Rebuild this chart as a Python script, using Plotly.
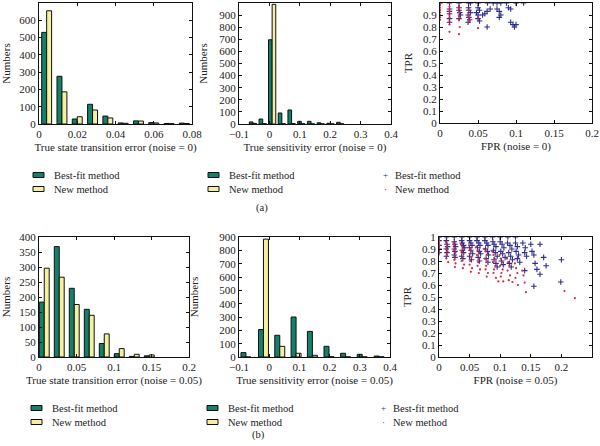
import plotly.graph_objects as go

# ---------------- data ----------------
# (a) noise = 0 : state transition error histogram
st0_x = [0.004, 0.012, 0.020, 0.028, 0.036, 0.044, 0.052, 0.060, 0.068, 0.076]
st0_best = [530, 276, 29, 114, 46, 6, 18, 8, 3, 5]
st0_new = [655, 186, 42, 81, 35, 4, 17, 6, 2, 3]

# (a) noise = 0 : sensitivity error histogram
se0_x = [-0.054, -0.022, 0.009, 0.041, 0.073, 0.105, 0.137, 0.169, 0.201, 0.233]
se0_best = [17, 41, 696, 91, 116, 22, 22, 10, 6, 14]
se0_new = [5, 3, 989, 2, 3, 2, 1, 1, 1, 1]

# (a) noise = 0 : ROC points
roc0_best_fpr = [0, 0.0125, 0.025, 0.0375, 0.04, 0.05, 0.0625, 0.07, 0.075, 0.08, 0.0875, 0.1, 0.11,
                 0.0125, 0.0125, 0.0125, 0.0125, 0.0125,
                 0.025, 0.025, 0.026, 0.027, 0.025,
                 0.0375, 0.038, 0.04, 0.037, 0.038, 0.039, 0.037,
                 0.05, 0.052, 0.048, 0.05, 0.05, 0.052,
                 0.056, 0.059, 0.062, 0.066, 0.062,
                 0.075, 0.078, 0.08, 0.078,
                 0.09, 0.093, 0.093, 0.096, 0.098, 0.1]
roc0_best_tpr = [1, 1, 1, 1, 1, 1, 1, 1, 1, 1, 1, 1, 1,
                 0.95, 0.93, 0.91, 0.87, 0.84,
                 0.96, 0.94, 0.92, 0.90, 0.87,
                 0.96, 0.94, 0.92, 0.90, 0.88, 0.86, 0.84,
                 0.96, 0.94, 0.92, 0.90, 0.87, 0.85,
                 0.90, 0.91, 0.93, 0.95, 0.80,
                 0.95, 0.93, 0.90, 0.88,
                 0.96, 0.95, 0.84, 0.82, 0.80, 0.82]
roc0_new_fpr = [0, 0, 0, 0, 0, 0, 0, 0,
                0.0125, 0.0125, 0.0125, 0.0125, 0.0125, 0.0125, 0.0125, 0.0125, 0.0125,
                0.025, 0.025, 0.025, 0.025, 0.025, 0.026, 0.025,
                0.0375, 0.0375, 0.038, 0.0375, 0.039,
                0.05, 0.05]
roc0_new_tpr = [1, 0.98, 0.96, 0.94, 0.92, 0.90, 0.88, 0.86,
                1, 0.97, 0.95, 0.93, 0.90, 0.88, 0.85, 0.82, 0.76,
                0.97, 0.95, 0.92, 0.89, 0.86, 0.80, 0.74,
                0.94, 0.90, 0.88, 0.86, 0.85,
                0.79, 0.88]

# (b) noise = 0.05 : state transition error histogram
st5_x = [0.007, 0.027, 0.047, 0.067, 0.087, 0.107, 0.127, 0.147]
st5_best = [183, 368, 229, 159, 45, 11, 2, 4]
st5_new = [296, 266, 175, 139, 77, 28, 9, 7]

# (b) noise = 0.05 : sensitivity error histogram
se5_x = [-0.077, -0.019, 0.035, 0.089, 0.143, 0.198, 0.253, 0.308, 0.364]
se5_best = [33, 206, 163, 300, 192, 80, 28, 20, 7]
se5_new = [0, 884, 80, 28, 13, 2, 1, 1, 1]

# (b) noise = 0.05 : ROC points
roc5_best_fpr = [0, 0.0125, 0.025, 0.0375, 0.05, 0.0625, 0.075, 0.0875, 0.1, 0.1125, 0.125,
                 0, 0, 0, 0,
                 0.012, 0.013, 0.014, 0.012, 0.013, 0.012,
                 0.025, 0.026, 0.027, 0.025, 0.026, 0.025, 0.026,
                 0.037, 0.038, 0.040, 0.042, 0.038, 0.040, 0.037, 0.039,
                 0.050, 0.052, 0.054, 0.050, 0.052, 0.055, 0.050, 0.053,
                 0.062, 0.065, 0.067, 0.063, 0.066, 0.068, 0.064, 0.066,
                 0.075, 0.078, 0.080, 0.076, 0.079, 0.081, 0.077, 0.080,
                 0.088, 0.090, 0.093, 0.089, 0.092, 0.095, 0.090, 0.093, 0.095,
                 0.100, 0.103, 0.106, 0.101, 0.104, 0.108, 0.102, 0.105,
                 0.112, 0.116, 0.119, 0.114, 0.117, 0.120, 0.115, 0.118,
                 0.125, 0.128, 0.126, 0.130, 0.128, 0.132,
                 0.137, 0.141, 0.140, 0.143, 0.140,
                 0.150, 0.152, 0.155, 0.157, 0.160, 0.155, 0.165,
                 0.165, 0.171, 0.175, 0.200, 0.199]
roc5_best_tpr = [1, 1, 1, 1, 1, 1, 1, 1, 1, 1, 1,
                 0.97, 0.93, 0.90, 0.87,
                 0.97, 0.94, 0.92, 0.90, 0.87, 0.84,
                 0.96, 0.94, 0.92, 0.90, 0.88, 0.85, 0.83,
                 0.97, 0.95, 0.93, 0.91, 0.89, 0.87, 0.84, 0.82,
                 0.97, 0.95, 0.93, 0.91, 0.89, 0.86, 0.84, 0.81,
                 0.97, 0.95, 0.93, 0.91, 0.88, 0.86, 0.83, 0.80,
                 0.97, 0.95, 0.93, 0.90, 0.88, 0.85, 0.82, 0.79,
                 0.96, 0.94, 0.92, 0.89, 0.87, 0.84, 0.81, 0.78, 0.75,
                 0.96, 0.94, 0.91, 0.88, 0.86, 0.83, 0.80, 0.77,
                 0.95, 0.93, 0.90, 0.87, 0.84, 0.81, 0.78, 0.75,
                 0.95, 0.92, 0.88, 0.85, 0.82, 0.79,
                 0.95, 0.91, 0.87, 0.84, 0.72,
                 0.94, 0.88, 0.85, 0.78, 0.73, 0.59, 0.69,
                 0.94, 0.83, 0.76, 0.81, 0.625]
roc5_new_fpr = [0, 0, 0, 0, 0, 0,
                0.011, 0.012, 0.013, 0.012, 0.014, 0.013, 0.012, 0.015,
                0.024, 0.025, 0.026, 0.025, 0.027, 0.026, 0.025, 0.027, 0.026,
                0.036, 0.038, 0.039, 0.037, 0.040, 0.038, 0.037, 0.041, 0.039,
                0.049, 0.051, 0.052, 0.050, 0.053, 0.051, 0.050, 0.054, 0.052,
                0.061, 0.063, 0.065, 0.062, 0.066, 0.064, 0.063, 0.067, 0.065,
                0.074, 0.076, 0.078, 0.075, 0.079, 0.077, 0.076, 0.080, 0.078,
                0.087, 0.089, 0.091, 0.088, 0.092, 0.090, 0.089, 0.093,
                0.099, 0.101, 0.103, 0.100, 0.104, 0.102, 0.101, 0.105,
                0.111, 0.113, 0.115, 0.112, 0.116, 0.114,
                0.124, 0.126, 0.128, 0.125, 0.129,
                0.136, 0.138, 0.140, 0.142,
                0.205, 0.222, 0.120, 0.097]
roc5_new_tpr = [0.97, 0.95, 0.93, 0.91, 0.89, 0.87,
                0.96, 0.94, 0.92, 0.90, 0.88, 0.85, 0.82, 0.79,
                0.95, 0.93, 0.91, 0.89, 0.87, 0.84, 0.81, 0.78, 0.75,
                0.94, 0.92, 0.90, 0.88, 0.86, 0.83, 0.80, 0.77, 0.74,
                0.93, 0.90, 0.88, 0.86, 0.83, 0.80, 0.77, 0.74, 0.71,
                0.92, 0.89, 0.87, 0.85, 0.82, 0.79, 0.76, 0.73, 0.70,
                0.90, 0.88, 0.85, 0.82, 0.79, 0.76, 0.73, 0.70, 0.67,
                0.88, 0.85, 0.82, 0.79, 0.76, 0.73, 0.70, 0.66,
                0.85, 0.82, 0.79, 0.76, 0.73, 0.70, 0.67, 0.63,
                0.82, 0.79, 0.76, 0.72, 0.68, 0.64,
                0.78, 0.74, 0.70, 0.66, 0.60,
                0.72, 0.68, 0.62, 0.54,
                0.55, 0.49, 0.625, 0.63]

series_names = ["Best-fit method", "New method"]
captions = ["(a)", "(b)"]

# ---------------- styling ----------------
FONT = "Liberation Serif"
TEAL = "#13806a"
YELLOW = "#f4f0a0"
BLUE = "#2e2e8c"
RED = "#d8283c"
TXT = "#222222"
EDGE = "#111111"

W, H = 600, 446
def px_x(p):
    return p / W
def px_y(p):
    return 1 - p / H

fig = go.Figure()

def add_hist(idx, xs, best, new, w):
    ax = "" if idx == 1 else str(idx)
    fig.add_trace(go.Bar(x=xs, y=best, width=w, offset=-w, name=series_names[0],
                         marker=dict(color=TEAL, line=dict(color=EDGE, width=1)),
                         xaxis="x" + ax, yaxis="y" + ax))
    fig.add_trace(go.Bar(x=xs, y=new, width=w, offset=0, name=series_names[1],
                         marker=dict(color=YELLOW, line=dict(color=EDGE, width=1)),
                         xaxis="x" + ax, yaxis="y" + ax))

def add_roc(idx, bx, by, nx, ny):
    ax = str(idx)
    fig.add_trace(go.Scatter(x=bx, y=by, mode="markers", name=series_names[0],
                             marker=dict(symbol="cross-thin", size=4, line=dict(color=BLUE, width=1.1), color=BLUE),
                             xaxis="x" + ax, yaxis="y" + ax))
    fig.add_trace(go.Scatter(x=nx, y=ny, mode="markers", name=series_names[1],
                             marker=dict(symbol="circle", size=2.2, color=RED),
                             xaxis="x" + ax, yaxis="y" + ax))

add_hist(1, st0_x, st0_best, st0_new, 0.0026)
add_hist(2, se0_x, se0_best, se0_new, 0.012)
add_roc(3, roc0_best_fpr, roc0_best_tpr, roc0_new_fpr, roc0_new_tpr)
add_hist(4, st5_x, st5_best, st5_new, 0.0066)
add_hist(5, se5_x, se5_best, se5_new, 0.0165)
add_roc(6, roc5_best_fpr, roc5_best_tpr, roc5_new_fpr, roc5_new_tpr)

panels = [
    # idx, xpix, ypix, xrange, dtickx, yrange, dticky, xtitle, ytitle, ytitle standoff
    (1, (39, 192), (3, 124), [0, 0.08], 0.02, [0, 700], 100, "True state transition error (noise = 0)", "Numbers", 19),
    (2, (239, 391), (3, 124), [-0.1, 0.4], 0.1, [0, 1000], 100, "True sensitivity error (noise = 0)", "Numbers", 9),
    (3, (440, 592), (3, 123), [0, 0.2], 0.05, [0, 1], 0.1, "FPR (noise = 0)", "TPR", 8),
    (4, (39, 189), (237, 357), [0, 0.2], 0.05, [0, 400], 50, "True state transition error (noise = 0.05)", "Numbers", 21),
    (5, (239, 390), (237, 357), [-0.1, 0.4], 0.1, [0, 900], 100, "True sensitivity error (noise = 0.05)", "Numbers", 18),
    (6, (439, 592), (237, 357), [0, 0.25], 0.05, [0, 1], 0.1, "FPR (noise = 0.05)", "TPR", 8),
]

layout = {}
for idx, xp, yp, xr, dx, yr, dy, xt, yt, ysoff in panels:
    s = "" if idx == 1 else str(idx)
    common = dict(showline=True, linecolor=EDGE, linewidth=1, mirror="ticks",
                  ticks="inside", ticklen=3, tickcolor=EDGE, showgrid=False, zeroline=False,
                  automargin=False, tickfont=dict(family=FONT, size=11, color=TXT))
    layout["xaxis" + s] = dict(common, domain=[px_x(xp[0]), px_x(xp[1])], range=xr, dtick=dx,
                               tick0=0, anchor="y" + s,
                               title=dict(text=xt, font=dict(family=FONT, size=11, color=TXT), standoff=4))
    layout["yaxis" + s] = dict(common, domain=[px_y(yp[1]), px_y(yp[0])], range=yr, dtick=dy,
                               tick0=0, anchor="x" + s,
                               title=dict(text=yt, font=dict(family=FONT, size=11, color=TXT), standoff=ysoff))

# ---- hand-drawn legends (swatch shapes + text annotations) ----
shapes = []
annotations = []
bar_legends = [(33, 52, 175, 189), (208, 227, 175, 189), (31, 50, 408, 422), (207, 226, 408, 422)]
for sx, tx, r1, r2 in bar_legends:
    for row_y, col in ((r1, TEAL), (r2, YELLOW)):
        shapes.append(dict(type="rect", xref="paper", yref="paper",
                           x0=px_x(sx), x1=px_x(sx + 11), y0=px_y(row_y + 2.5), y1=px_y(row_y - 2.5),
                           fillcolor=col, line=dict(color=EDGE, width=1)))
    for row_y, name in ((r1, series_names[0]), (r2, series_names[1])):
        annotations.append(dict(text=name, x=px_x(tx), y=px_y(row_y), xref="paper", yref="paper",
                                xanchor="left", yanchor="middle", showarrow=False,
                                font=dict(family=FONT, size=10.5, color=TXT)))

scatter_legends = [(385, 393, 175, 189), (383, 391, 408, 422)]
for mx, tx, r1, r2 in scatter_legends:
    annotations.append(dict(text="+", x=px_x(mx), y=px_y(r1), xref="paper", yref="paper",
                            xanchor="center", yanchor="middle", showarrow=False,
                            font=dict(family=FONT, size=9, color=BLUE)))
    annotations.append(dict(text="·", x=px_x(mx), y=px_y(r2), xref="paper", yref="paper",
                            xanchor="center", yanchor="middle", showarrow=False,
                            font=dict(family=FONT, size=10, color=RED)))
    for row_y, name in ((r1, series_names[0]), (r2, series_names[1])):
        annotations.append(dict(text=name, x=px_x(tx), y=px_y(row_y), xref="paper", yref="paper",
                                xanchor="left", yanchor="middle", showarrow=False,
                                font=dict(family=FONT, size=10.5, color=TXT)))

for cap, (cx, cy) in zip(captions, [(262, 208), (258, 435)]):
    annotations.append(dict(text=cap, x=px_x(cx), y=px_y(cy), xref="paper", yref="paper",
                            xanchor="center", yanchor="middle", showarrow=False,
                            font=dict(family=FONT, size=10.5, color=TXT)))

fig.update_layout(**layout)
fig.update_layout(
    width=W, height=H, margin=dict(l=0, r=0, t=0, b=0, autoexpand=False),
    paper_bgcolor="white", plot_bgcolor="white", showlegend=False,
    font=dict(family=FONT, color=TXT),
    shapes=shapes, annotations=annotations,
)

fig.write_html("out.html", config={"displayModeBar": False},
               post_script="document.body.style.margin='0px';document.body.style.overflow='hidden';")
